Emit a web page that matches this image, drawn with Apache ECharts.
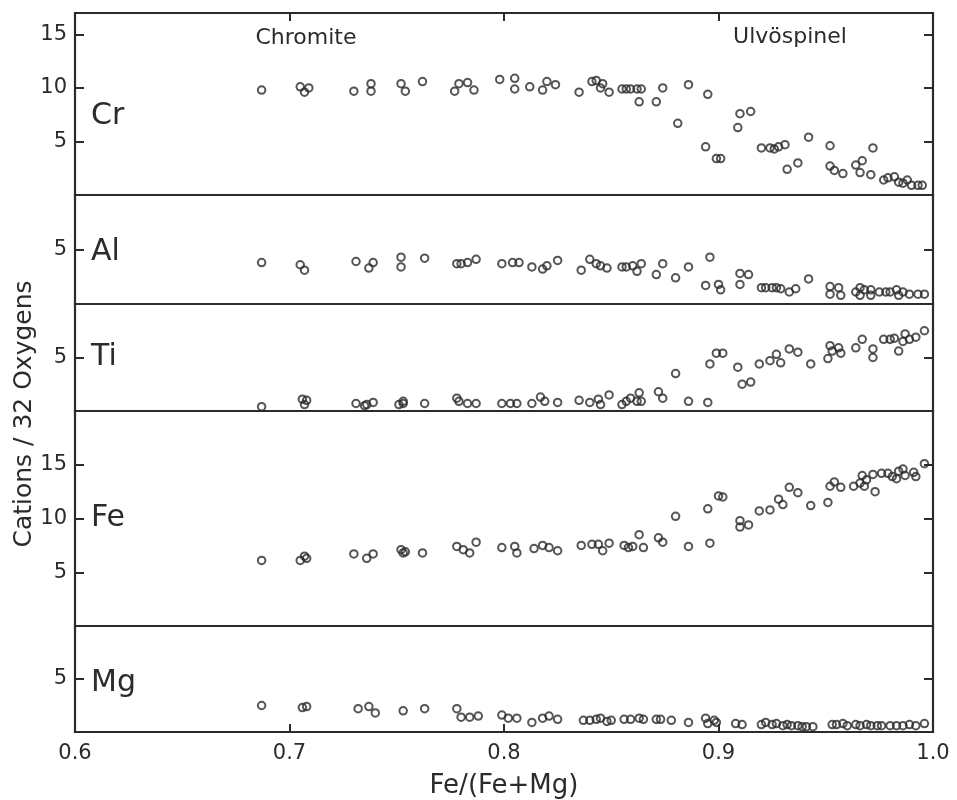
<!DOCTYPE html>
<html>
<head>
<meta charset="utf-8">
<script src="https://cdn.jsdelivr.net/npm/echarts@6/dist/echarts.min.js"></script>
<style>
html,body{margin:0;padding:0;background:#fff;}
#chart{width:957px;height:800px;}
</style>
</head>
<body>
<div id="chart"></div>
<script>
// ---- data (x = Fe/(Fe+Mg), y = cations per 32 oxygens) ----
var panelNames = ['Cr', 'Al', 'Ti', 'Fe', 'Mg'];
var panelMax = [17, 10, 10, 20, 10];
var panelTicks = [[5, 10, 15], [5], [5], [5, 10, 15], [5]];
var xTickLabels = [0.6, 0.7, 0.8, 0.9, 1.0];
var xInnerTicks = [0.7, 0.8, 0.9];

var crPts = [[0.687,9.8],[0.705,10.1],[0.707,9.6],[0.709,10.0],[0.730,9.7],[0.738,10.4],[0.738,9.7],[0.752,10.4],[0.754,9.7],[0.762,10.6],[0.777,9.7],[0.779,10.4],[0.783,10.5],[0.786,9.8],[0.798,10.8],[0.805,10.9],[0.805,9.9],[0.812,10.1],[0.818,9.8],[0.820,10.6],[0.824,10.3],[0.835,9.6],[0.841,10.6],[0.843,10.7],[0.845,10.0],[0.846,10.4],[0.849,9.6],[0.855,9.9],[0.857,9.9],[0.859,9.9],[0.862,9.9],[0.864,9.9],[0.863,8.7],[0.871,8.7],[0.874,10.0],[0.886,10.3],[0.881,6.7],[0.895,9.4],[0.894,4.5],[0.899,3.4],[0.901,3.4],[0.909,6.3],[0.910,7.6],[0.915,7.8],[0.920,4.4],[0.924,4.4],[0.926,4.3],[0.928,4.5],[0.931,4.7],[0.932,2.4],[0.937,3.0],[0.942,5.4],[0.952,4.6],[0.952,2.7],[0.954,2.3],[0.958,2.0],[0.964,2.8],[0.967,3.2],[0.966,2.1],[0.971,1.9],[0.972,4.4],[0.977,1.4],[0.979,1.6],[0.982,1.7],[0.984,1.2],[0.986,1.1],[0.988,1.4],[0.990,0.9],[0.993,0.9],[0.995,0.9]];

var alPts = [[0.687,3.8],[0.705,3.6],[0.707,3.1],[0.731,3.9],[0.737,3.3],[0.739,3.8],[0.752,4.3],[0.752,3.4],[0.763,4.2],[0.778,3.7],[0.780,3.7],[0.783,3.8],[0.787,4.1],[0.799,3.7],[0.804,3.8],[0.807,3.8],[0.813,3.4],[0.818,3.2],[0.820,3.5],[0.825,4.0],[0.836,3.1],[0.840,4.1],[0.843,3.7],[0.845,3.5],[0.848,3.3],[0.855,3.4],[0.857,3.4],[0.860,3.5],[0.862,3.0],[0.864,3.7],[0.871,2.7],[0.874,3.7],[0.880,2.4],[0.886,3.4],[0.896,4.3],[0.894,1.7],[0.900,1.8],[0.901,1.3],[0.910,2.8],[0.914,2.7],[0.910,1.8],[0.920,1.5],[0.922,1.5],[0.925,1.5],[0.927,1.5],[0.929,1.4],[0.933,1.1],[0.936,1.4],[0.942,2.3],[0.952,1.6],[0.952,0.9],[0.956,1.5],[0.957,0.8],[0.964,1.1],[0.966,1.5],[0.966,0.8],[0.968,1.3],[0.971,1.3],[0.971,0.8],[0.975,1.1],[0.978,1.1],[0.980,1.1],[0.983,1.3],[0.984,0.8],[0.986,1.1],[0.989,0.9],[0.993,0.9],[0.996,0.9]];

var tiPts = [[0.687,0.4],[0.706,1.1],[0.708,1.0],[0.707,0.6],[0.731,0.7],[0.735,0.5],[0.736,0.6],[0.739,0.8],[0.751,0.6],[0.753,0.9],[0.753,0.7],[0.763,0.7],[0.778,1.2],[0.779,0.9],[0.783,0.7],[0.787,0.7],[0.799,0.7],[0.803,0.7],[0.806,0.7],[0.813,0.7],[0.817,1.3],[0.819,0.9],[0.825,0.8],[0.835,1.0],[0.840,0.8],[0.844,1.1],[0.845,0.6],[0.849,1.5],[0.855,0.6],[0.857,0.9],[0.859,1.2],[0.862,0.9],[0.863,1.7],[0.864,0.9],[0.872,1.8],[0.874,1.2],[0.880,3.5],[0.886,0.9],[0.895,0.8],[0.896,4.4],[0.899,5.4],[0.902,5.4],[0.909,4.1],[0.911,2.5],[0.915,2.7],[0.919,4.4],[0.924,4.7],[0.927,5.3],[0.929,4.5],[0.933,5.8],[0.937,5.5],[0.943,4.4],[0.951,4.9],[0.952,6.1],[0.953,5.6],[0.956,5.9],[0.957,5.4],[0.964,5.9],[0.967,6.7],[0.972,5.8],[0.972,5.0],[0.977,6.7],[0.980,6.7],[0.982,6.8],[0.984,5.6],[0.986,6.5],[0.987,7.2],[0.989,6.7],[0.992,6.9],[0.996,7.5]];

var fePts = [[0.687,6.1],[0.705,6.1],[0.707,6.5],[0.708,6.3],[0.730,6.7],[0.736,6.3],[0.739,6.7],[0.752,7.1],[0.753,6.8],[0.754,6.9],[0.762,6.8],[0.778,7.4],[0.781,7.1],[0.784,6.8],[0.787,7.8],[0.799,7.3],[0.805,7.4],[0.806,6.8],[0.814,7.2],[0.818,7.5],[0.821,7.3],[0.825,7.0],[0.836,7.5],[0.841,7.6],[0.844,7.6],[0.846,7.0],[0.849,7.7],[0.856,7.5],[0.858,7.3],[0.860,7.4],[0.863,8.5],[0.865,7.3],[0.872,8.2],[0.874,7.8],[0.880,10.2],[0.886,7.4],[0.895,10.9],[0.896,7.7],[0.900,12.1],[0.902,12.0],[0.910,9.8],[0.910,9.2],[0.914,9.4],[0.919,10.7],[0.924,10.8],[0.928,11.8],[0.930,11.3],[0.933,12.9],[0.937,12.4],[0.943,11.2],[0.951,11.5],[0.952,13.0],[0.954,13.4],[0.957,12.9],[0.963,13.0],[0.966,13.3],[0.967,14.0],[0.969,13.6],[0.968,13.0],[0.972,14.1],[0.973,12.5],[0.976,14.2],[0.979,14.2],[0.981,13.9],[0.983,13.7],[0.984,14.4],[0.986,14.6],[0.987,14.0],[0.991,14.3],[0.992,13.9],[0.996,15.1]];

var mgPts = [[0.687,2.5],[0.706,2.3],[0.708,2.4],[0.732,2.2],[0.737,2.4],[0.740,1.8],[0.753,2.0],[0.763,2.2],[0.778,2.2],[0.780,1.4],[0.784,1.4],[0.788,1.5],[0.799,1.6],[0.802,1.3],[0.806,1.3],[0.813,0.9],[0.818,1.3],[0.821,1.5],[0.825,1.2],[0.837,1.1],[0.840,1.1],[0.843,1.2],[0.845,1.3],[0.848,1.0],[0.850,1.1],[0.856,1.2],[0.859,1.2],[0.863,1.3],[0.865,1.2],[0.871,1.2],[0.873,1.2],[0.878,1.1],[0.886,0.9],[0.894,1.3],[0.895,0.8],[0.898,1.1],[0.899,0.9],[0.908,0.8],[0.911,0.7],[0.920,0.7],[0.922,0.9],[0.925,0.7],[0.927,0.8],[0.930,0.6],[0.932,0.7],[0.934,0.6],[0.937,0.6],[0.939,0.5],[0.941,0.5],[0.944,0.5],[0.953,0.7],[0.955,0.7],[0.958,0.8],[0.960,0.6],[0.964,0.7],[0.966,0.6],[0.969,0.7],[0.971,0.6],[0.974,0.6],[0.976,0.6],[0.980,0.6],[0.983,0.6],[0.986,0.6],[0.989,0.7],[0.992,0.6],[0.996,0.8]];

var panelData = [crPts, alPts, tiPts, fePts, mgPts];

// ---- layout ----
var INK = '#2b2b2b';
var FONT = '"DejaVu Sans", sans-serif';
var panelTop = [13, 195, 304, 411, 626];
var panelBottom = [195, 304, 411, 626, 734];
var labelY = [116, 252, 357, 518, 683];

var grids = [], xAxes = [], yAxes = [], series = [], graphics = [];
for (var i = 0; i < 5; i++) {
  grids.push({left: 75, width: 858, top: panelTop[i], height: panelBottom[i] - panelTop[i],
    show: true, borderColor: INK, borderWidth: 2.2, backgroundColor: 'transparent'});
  var isTop = i === 0, isBottom = i === 4;
  xAxes.push({
    type: 'value', gridIndex: i, min: 0.6, max: 1.0, interval: 0.1,
    position: isTop ? 'top' : 'bottom',
    axisLine: {show: false, onZero: false},
    axisTick: {show: isTop || isBottom, inside: true, length: 8, lineStyle: {color: INK, width: 2},
      customValues: xInnerTicks},
    axisLabel: {show: isBottom, color: INK, fontSize: 21, fontFamily: FONT, margin: 11,
      customValues: xTickLabels, formatter: function (v) { return v.toFixed(1); }},
    splitLine: {show: false},
    name: isBottom ? 'Fe/(Fe+Mg)' : '',
    nameLocation: 'middle', nameGap: 41,
    nameTextStyle: {color: INK, fontSize: 26, fontFamily: FONT}
  });
  yAxes.push({
    type: 'value', gridIndex: i, min: 0, max: panelMax[i], position: 'left',
    axisLine: {show: false, onZero: false},
    axisTick: {show: true, inside: true, length: 9, lineStyle: {color: INK, width: 2}, customValues: panelTicks[i]},
    axisLabel: {show: true, color: INK, fontSize: 21, fontFamily: FONT, margin: 8, customValues: panelTicks[i]},
    splitLine: {show: false}
  });
  yAxes.push({
    type: 'value', gridIndex: i, min: 0, max: panelMax[i], position: 'right',
    axisLine: {show: false, onZero: false},
    axisTick: {show: true, inside: true, length: 9, lineStyle: {color: INK, width: 2}, customValues: panelTicks[i]},
    axisLabel: {show: false},
    splitLine: {show: false}
  });
  series.push({
    type: 'scatter', name: panelNames[i], xAxisIndex: i, yAxisIndex: 2 * i,
    data: panelData[i], symbol: 'circle', symbolSize: 7.5,
    itemStyle: {color: 'rgba(255,255,255,0)', borderColor: INK, borderWidth: 2},
    silent: true
  });
  graphics.push({type: 'text', x: 91, y: labelY[i],
    style: {text: panelNames[i], fill: INK, fontSize: 30, fontFamily: FONT, align: 'left', verticalAlign: 'middle'}});
}
graphics.push({type: 'text', x: 306, y: 38,
  style: {text: 'Chromite', fill: INK, fontSize: 22, fontFamily: FONT, align: 'center', verticalAlign: 'middle'}});
graphics.push({type: 'text', x: 790, y: 37,
  style: {text: 'Ulvöspinel', fill: INK, fontSize: 22, fontFamily: FONT, align: 'center', verticalAlign: 'middle'}});
graphics.push({type: 'text', x: 24, y: 414, rotation: Math.PI / 2,
  style: {text: 'Cations / 32 Oxygens', fill: INK, fontSize: 25, fontFamily: FONT, align: 'center', verticalAlign: 'middle'}});

var chart = echarts.init(document.getElementById('chart'), null, {renderer: 'canvas'});
chart.setOption({
  backgroundColor: '#ffffff',
  animation: false,
  grid: grids, xAxis: xAxes, yAxis: yAxes, series: series, graphic: graphics
});
</script>
</body>
</html>
